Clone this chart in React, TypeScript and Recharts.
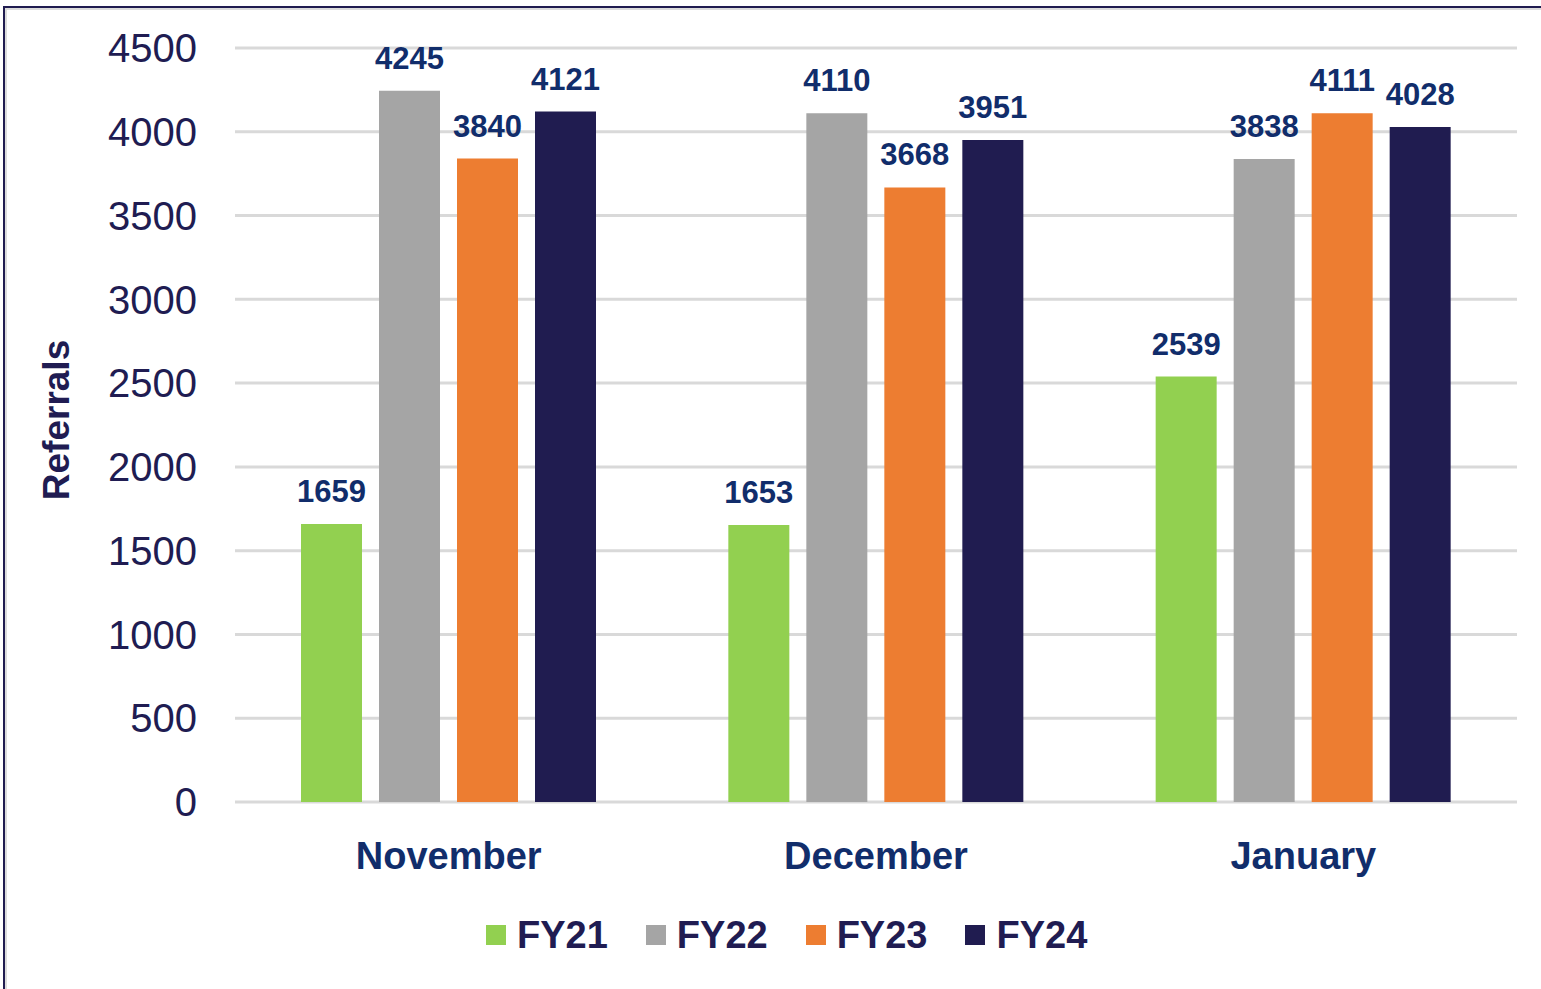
import React from 'react';
import { BarChart, Bar, XAxis, YAxis, CartesianGrid, Legend, LabelList, Label } from 'recharts';

const months = ['November', 'December', 'January'];
const fy21 = [1659, 1653, 2539];
const fy22 = [4245, 4110, 3838];
const fy23 = [3840, 3668, 4111];
const fy24 = [4121, 3951, 4028];
const seriesNames = ['FY21', 'FY22', 'FY23', 'FY24'];
const seriesColors = ['#92d050', '#a5a5a5', '#ed7d31', '#201c50'];
const yTicks = [0, 500, 1000, 1500, 2000, 2500, 3000, 3500, 4000, 4500];
const yTitle = 'Referrals';

const seriesValues = [fy21, fy22, fy23, fy24];
const data = months.map((m, i) => {
  const row: Record<string, string | number> = { month: m };
  seriesNames.forEach((s, k) => {
    row[s] = seriesValues[k][i];
  });
  return row;
});

const FONT = '"Liberation Sans", Arial, sans-serif';
const TICK_COLOR = '#201c52';
const LABEL_COLOR = '#112d6b';

const renderYTitle = (props: any) => {
  const vb = props.viewBox || { x: 0, y: 0, width: 0, height: 0 };
  const cx = vb.x + 56;
  const cy = vb.y + vb.height / 2 - 5;
  return (
    <text
      x={cx}
      y={cy}
      transform={`rotate(-90 ${cx} ${cy})`}
      textAnchor="middle"
      dominantBaseline="central"
      fill={TICK_COLOR}
      fontFamily={FONT}
      fontSize={37}
      fontWeight="bold"
    >
      {yTitle}
    </text>
  );
};

const renderLegend = () => (
  <div style={{ display: 'flex', alignItems: 'center', height: 50, fontFamily: FONT }}>
    {seriesNames.map((s, k) => (
      <div key={s} style={{ display: 'flex', alignItems: 'center', marginRight: k < seriesNames.length - 1 ? 38 : 0 }}>
        <div style={{ width: 20, height: 20, background: seriesColors[k], marginRight: 11 }} />
        <span style={{ fontSize: 38, fontWeight: 'bold', color: TICK_COLOR, lineHeight: '50px' }}>{s}</span>
      </div>
    ))}
  </div>
);

export default function App() {
  return (
    <div style={{ position: 'absolute', left: 0, top: 0, width: 1541, height: 989, background: '#fff', overflow: 'hidden' }}>
      <BarChart
        width={1541}
        height={989}
        data={data}
        margin={{ top: 48, right: 24, left: 0, bottom: 37 }}
        barSize={61}
        barGap={17}
      >
        <CartesianGrid vertical={false} stroke="#d9d9d9" strokeWidth={3} />
        <XAxis
          dataKey="month"
          height={100}
          axisLine={false}
          tickLine={false}
          tickMargin={34}
          tick={{ fontSize: 38, fontWeight: 'bold', fill: LABEL_COLOR, fontFamily: FONT }}
        />
        <YAxis
          width={235}
          domain={[0, 4500]}
          ticks={yTicks}
          axisLine={false}
          tickLine={false}
          tickMargin={32}
          tick={{ fontSize: 40, fill: TICK_COLOR, fontFamily: FONT }}
        >
          <Label content={renderYTitle} />
        </YAxis>
        <Legend
          verticalAlign="bottom"
          content={renderLegend}
          wrapperStyle={{ position: 'absolute', left: 486, top: 910, bottom: 'auto', width: 'auto', height: 50 }}
        />
        {seriesNames.map((s, k) => (
          <Bar key={s} dataKey={s} fill={seriesColors[k]} isAnimationActive={false}>
            <LabelList
              dataKey={s}
              position="top"
              offset={22}
              style={{ fontSize: 31, fontWeight: 'bold', fill: LABEL_COLOR, fontFamily: FONT }}
            />
          </Bar>
        ))}
      </BarChart>
      <div
        style={{
          position: 'absolute',
          left: 3,
          top: 6,
          width: 1538,
          height: 983,
          borderTop: '2px solid #201c50',
          borderLeft: '2px solid #201c50',
          boxShadow: 'inset 2px 2px 0 #dcdcdc',
          boxSizing: 'border-box',
          pointerEvents: 'none',
        }}
      />
    </div>
  );
}
